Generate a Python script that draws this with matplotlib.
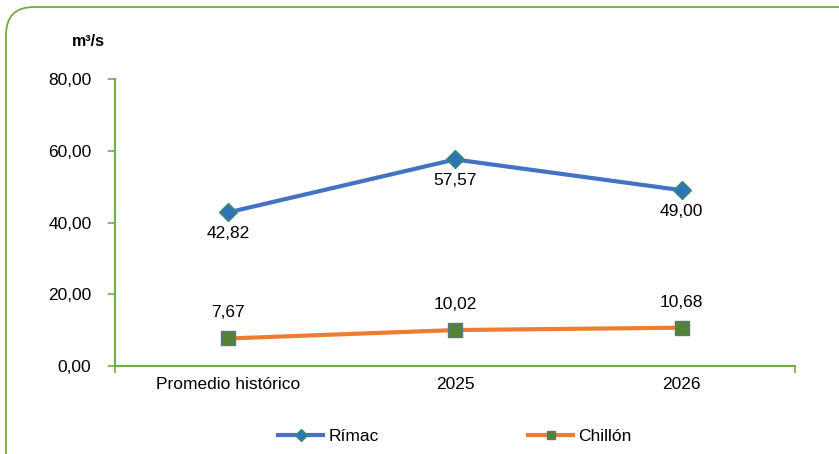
import matplotlib.pyplot as plt
import matplotlib.patches as patches
import matplotlib.transforms as mtransforms

categories = ["Promedio histórico", "2025", "2026"]
rimac = [42.82, 57.57, 49.00]
chillon = [7.67, 10.02, 10.68]
yticks = [0, 20, 40, 60, 80]

plt.rcParams["font.family"] = ["Liberation Sans Narrow", "Liberation Sans", "DejaVu Sans"]

GREEN = "#70AD47"


def fmt(v):
    return f"{v:.2f}".replace(".", ",")


fig = plt.figure(figsize=(8.39, 4.54), dpi=100)
ax = fig.add_axes([115 / 839, 1 - 366 / 454, 680 / 839, 287 / 454])

# rounded frame around the chart, in pixels
frame = patches.FancyBboxPatch(
    (6, -40), 900, 447 + 40, boxstyle="round,pad=0,rounding_size=28",
    transform=mtransforms.IdentityTransform(), facecolor="none",
    edgecolor=GREEN, linewidth=1.3, clip_on=False,
)
fig.patches.append(frame)

x = list(range(len(categories)))
ax.plot(x, rimac, color="#4472C4", linewidth=3, marker="D", markersize=9,
        markerfacecolor="#2E75B6", markeredgecolor="#3C8C6C", markeredgewidth=1,
        label="Rímac", zorder=3)
ax.plot(x, chillon, color="#ED7D31", linewidth=3, marker="s", markersize=9.5,
        markerfacecolor="#548235", markeredgecolor="#5A7390", markeredgewidth=1,
        label="Chillón", zorder=3)

for xi, v in zip(x, rimac):
    ax.annotate(fmt(v), (xi, v), xytext=(0, -10), textcoords="offset points",
                ha="center", va="top", fontsize=12.5)
for xi, v in zip(x, chillon):
    ax.annotate(fmt(v), (xi, v), xytext=(0, 13), textcoords="offset points",
                ha="center", va="bottom", fontsize=12.5)

ax.set_xlim(-0.5, 2.5)
ax.set_ylim(0, 80)
ax.set_yticks(yticks)
ax.set_yticklabels([fmt(v) for v in yticks], fontsize=12.5)
ax.set_xticks(x)
ax.set_xticklabels(categories, fontsize=12.5)
ax.tick_params(axis="x", length=0, pad=8)
ax.tick_params(axis="y", length=5, color=GREEN, width=1.2, pad=12)
ax.set_xticks([-0.5, 2.5], minor=True)
ax.tick_params(axis="x", which="minor", length=5, color=GREEN, width=1.2)

for s in ["top", "right"]:
    ax.spines[s].set_visible(False)
for s in ["left", "bottom"]:
    ax.spines[s].set_color(GREEN)
    ax.spines[s].set_linewidth(1.5)

fig.text(88 / 839, 1 - 41 / 454, "m³/s", fontsize=11.5, fontweight="bold",
         ha="center", va="center")

ax.legend(loc="center", bbox_to_anchor=(0.5, -0.245), ncol=2, frameon=False,
          fontsize=12.5, handlelength=2.6, columnspacing=8.6, handletextpad=0.3,
          markerscale=0.65)

fig.savefig("out.png", dpi=100)
